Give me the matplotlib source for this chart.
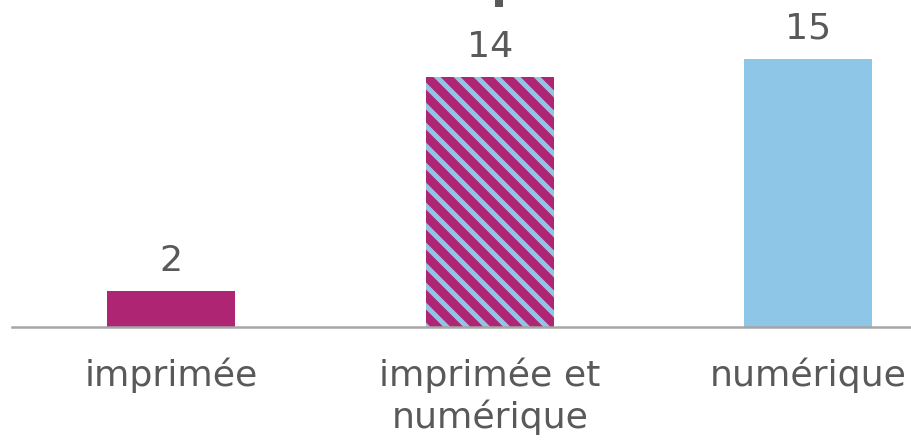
import matplotlib
matplotlib.use("Agg")
import matplotlib.pyplot as plt
from matplotlib.patches import Rectangle

categories = ["imprimée", "imprimée et\nnumérique", "numérique"]
values = [2, 14, 15]

magenta = "#AE2573"
light_blue = "#8EC6E8"
text_grey = "#595959"

plt.rcParams["font.family"] = ["DejaVu Sans"]
plt.rcParams["hatch.linewidth"] = 3.0
plt.rcParams["hatch.color"] = light_blue

dpi = 120
fig = plt.figure(figsize=(911 / dpi, 443 / dpi), dpi=dpi)
ax = fig.add_axes([12 / 911, 116 / 443, 899 / 911, 327 / 443])

x = list(range(len(categories)))
bars = ax.bar(x, values, width=0.402, color=[magenta, magenta, light_blue],
              edgecolor="none", linewidth=0)
bars[1].set_hatch("\\\\")
bars[1].set_edgecolor(light_blue)
bars[1].set_linewidth(0)

for xi, v in zip(x, values):
    ax.annotate(str(v), (xi, v), xytext=(0, 12), textcoords="offset points",
                ha="center", va="baseline", fontsize=21.8, color=text_grey)

ax.set_xlim(-0.5, -0.5 + 899 / 318.5)
ax.set_ylim(0, 18.3)
ax.set_xticks(x)
ax.set_xticklabels(categories, fontsize=21.8, color=text_grey, linespacing=1.2)
ax.tick_params(axis="x", length=0, pad=18.5)
ax.set_yticks([])
for side in ["top", "right", "left"]:
    ax.spines[side].set_visible(False)
ax.spines["bottom"].set_color("#A6A6A6")
ax.spines["bottom"].set_linewidth(1.5)

# bit of the cut-off title at the top edge
fig.add_artist(Rectangle((495 / 911, 1 - 7 / 443), 8 / 911, 7 / 443,
                         transform=fig.transFigure, color="#595959", lw=0))

fig.savefig("out.png", dpi=dpi)
